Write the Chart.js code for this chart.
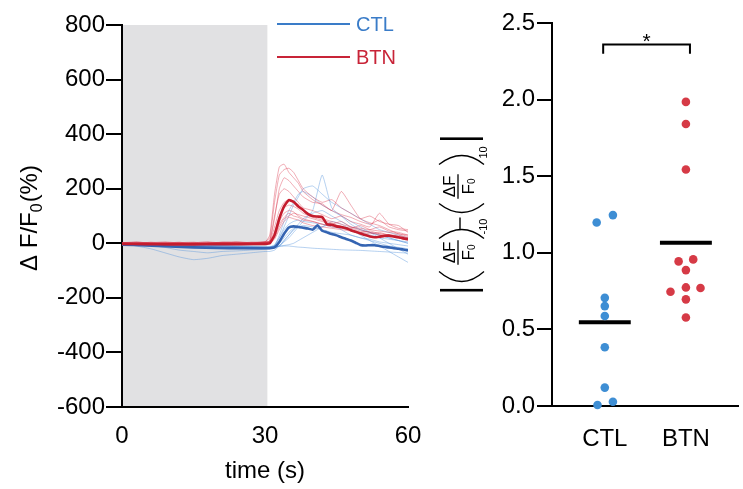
<!DOCTYPE html>
<html>
<head>
<meta charset="utf-8">
<script src="https://cdn.jsdelivr.net/npm/chart.js@4"></script>
<style>
  body { margin: 0; background: #fff; }
  #wrap { position: relative; width: 743px; height: 489px; overflow: hidden; }
  canvas { position: absolute; top: 0; }
  #trace { left: 0; }
  #dots { left: 400px; }
</style>
</head>
<body>
<div id="wrap">
  <canvas id="trace" width="440" height="489"></canvas>
  <canvas id="dots" width="343" height="489"></canvas>
</div>
<script>
// ---- left panel: dF/F0 traces ----
const traceTime = [0,3,6,9,12,15,18,21,24,27,30,31,32,33,34,35,36,37,38,40,42,44,46,48,50,52,54,56,58,60];
const meanTime = [0,5,10,15,20,25,30,31,32,33,34,35,36,37,38,39,40,41,42,43,44,45,46,47,48,49,50,51,52,53,54,55,56,57,58,59,60];

const ctlMean = [-5,-8,-12,-15,-17,-18,-18, -18,-15,5,35,58,62,60,57,54,50,66,46,40,34,29,22,16,10,2,-6,-8,-7,-7,-10,-13,-15,-18,-20,-23,-26];
const btnMean = [-2,-3,-4,-4,-3,-3,-2, 0,30,90,135,158,152,135,122,108,100,98,96,70,68,62,60,55,48,42,36,30,25,22,24,27,28,25,22,18,15];

// single cells
const ctlTraces = [
  [0,-10,-20,-35,-50,-60,-55,-45,-40,-35,-30, -30,-25,-10,10,30,50,60,65, 60,50,40,35,30,20,15,5,0,-5,-10],
  [0,-5,-8,-15,-25,-30,-35,-30,-28,-25,-22, -20,-10,20,60,100,140,170,200, 210,180,150,130,110,90,70,50,40,30,20],
  [2,0,-3,-5,-8,-10,-12,-15,-18,-20,-20, -18,-15,-10,5,20,40,60,80, 120,250,130,100,70,50,40,30,20,10,0],
  [-2,0,-3,-5,-4,-6,-8,-10,-12,-14,-15, -15,-10,30,80,120,150,180,190, 170,140,120,100,80,60,40,20,0,-20,-40],
  [0,-2,-4,-6,-5,-7,-9,-10,-12,-13,-15, -14,-12,-10,-8,-5,0,10,20, 40,60,80,70,50,30,10,-10,-30,-50,-70],
  [1,-1,-3,-2,-4,-5,-6,-8,-9,-10,-12, -12,-12,-12,-10,-10,-12,-14,-15, -18,-20,-22,-24,-25,-26,-28,-30,-32,-34,-36],
  [0,2,-2,-4,-6,-8,-10,-10,-12,-14,-16, -15,-5,20,50,70,80,85,80, 75,70,60,55,50,40,30,20,15,10,5],
  [-1,-3,-5,-7,-9,-11,-13,-15,-16,-17,-18, -18,-17,-10,10,30,50,70,90, 110,120,100,80,60,50,40,30,20,10,0],
  [0,-2,-5,-3,-6,-8,-7,-9,-11,-12,-14, -12,-8,0,20,40,55,60,55, 50,60,70,50,30,20,10,0,-10,-15,-20]
];
const btnTraces = [
  [3,-2,4,0,-3,2,5,1,-2,3,4, 30,180,280,290,260,240,220,190, 160,140,120,105,95,80,70,85,60,50,45],
  [-4,2,-1,3,0,-2,1,4,2,-1,6, 20,150,250,270,275,260,230,200, 170,150,160,130,110,90,100,80,70,65,40],
  [2,5,0,-3,2,4,-1,3,6,2,3, 10,90,200,240,230,210,190,170, 150,145,120,190,140,90,75,65,50,35,30],
  [0,-3,2,5,1,-2,3,0,4,1,2, 5,60,120,150,160,155,140,120, 100,90,80,70,60,55,50,60,45,40,30],
  [1,2,-2,0,3,1,-3,2,0,4,5, 8,40,100,130,140,135,125,110, 95,85,75,60,55,45,40,35,30,25,20],
  [-2,0,3,1,-1,2,4,-2,1,3,2, 3,30,80,110,120,115,100,90, 80,70,60,55,50,40,45,35,30,20,15],
  [3,1,0,-2,2,-1,0,3,-1,2,4, 5,20,60,90,100,110,105,100, 90,80,70,80,60,50,40,30,25,20,10],
  [0,4,1,-1,-2,3,2,1,0,-2,3, 2,15,50,80,95,90,85,75, 65,60,55,50,45,40,35,40,30,30,20],
  [2,-1,-2,3,1,0,-2,4,2,1,5, 4,25,70,95,110,100,95,85, 80,70,65,60,55,65,50,45,40,35,25],
  [-1,3,2,0,4,-3,1,2,3,0,2, 10,100,180,200,190,170,150,130, 120,105,90,100,80,70,60,110,70,55,50]
];
const stimStart = 0, stimEnd = 30.5;
const yTicksLeft = [-600, 800, 200];  // min, max, step
const xTicksLeft = [0, 60, 30];

// ---- right panel: scatter ----
const groups = ['CTL', 'BTN'];
const ctlValues = [1.198, 1.246, 0.706, 0.652, 0.587, 0.383, 0.120, 0.007, 0.028];
const btnValues = [1.985, 1.841, 1.544, 0.944, 0.957, 0.887, 0.746, 0.774, 0.770, 0.696, 0.578];
// horizontal scatter offsets of the dots (category units)
const ctlJitter = [-0.1, 0.1, 0, 0, 0, 0, 0, -0.09, 0.1];
const btnJitter = [0, 0, 0, -0.09, 0.09, 0, -0.19, 0, 0.18, 0, 0];

const FONT = '"Liberation Sans", Arial, Helvetica, sans-serif';
Chart.defaults.font.family = FONT;
Chart.defaults.color = '#000';

const blue = 'rgb(58,124,200)', red = 'rgb(200,36,56)';
const blueMean = 'rgb(52,100,178)', redMean = 'rgb(196,28,46)';
const blueThin = 'rgba(80,145,220,0.42)', redThin = 'rgba(220,60,80,0.42)';

function pts(xs, ys) { return ys.map((v, i) => ({ x: xs[i], y: v })); }

const leftSets = [];
leftSets.push({ data: pts(meanTime, btnMean), borderColor: redMean, borderWidth: 2.6, order: 0 });
leftSets.push({ data: pts(meanTime, ctlMean), borderColor: blueMean, borderWidth: 2.6, order: 1 });
btnTraces.forEach(t => leftSets.push({ data: pts(traceTime, t), borderColor: redThin, borderWidth: 1, order: 2 }));
ctlTraces.forEach(t => leftSets.push({ data: pts(traceTime, t), borderColor: blueThin, borderWidth: 1, order: 3 }));

const leftDeco = {
  id: 'leftDeco',
  beforeDraw(chart) {
    const { ctx, chartArea, scales: { x } } = chart;
    const x0 = x.getPixelForValue(stimStart), x1 = x.getPixelForValue(stimEnd);
    ctx.save();
    ctx.fillStyle = '#e1e1e3';
    ctx.fillRect(x0, chartArea.top, x1 - x0, chartArea.bottom - chartArea.top);
    ctx.restore();
  },
  afterDraw(chart) {
    const ctx = chart.ctx;
    ctx.save();
    // legend
    ctx.lineWidth = 2;
    ctx.font = '20px ' + FONT;
    ctx.textBaseline = 'middle';
    [[groups[0], blue, 24], [groups[1], red, 57]].forEach(([txt, col, y]) => {
      ctx.strokeStyle = col;
      ctx.beginPath(); ctx.moveTo(277, y); ctx.lineTo(350, y); ctx.stroke();
      ctx.fillStyle = col;
      ctx.fillText(txt, 356, y + 1);
    });
    // x title
    ctx.fillStyle = '#000';
    ctx.textBaseline = 'alphabetic';
    ctx.textAlign = 'center';
    ctx.font = '24px ' + FONT;
    ctx.fillText('time (s)', 265, 478);
    // y title with subscript
    ctx.translate(37, 218);
    ctx.rotate(-Math.PI / 2);
    ctx.textAlign = 'left';
    const big = '24px ' + FONT, small = '16px ' + FONT;
    ctx.font = big; const w1 = ctx.measureText('\u0394 F/F').width; const w3 = ctx.measureText('(%)').width;
    ctx.font = small; const w2 = ctx.measureText('0').width;
    let x = -(w1 + w2 + w3 + 1) / 2;
    ctx.font = big; ctx.fillText('\u0394 F/F', x, 0);
    ctx.font = small; ctx.fillText('0', x + w1, 5);
    ctx.font = big; ctx.fillText('(%)', x + w1 + w2 + 1, 0);
    ctx.restore();
  }
};

new Chart(document.getElementById('trace'), {
  type: 'line',
  data: { datasets: leftSets },
  options: {
    responsive: false,
    animation: false,
    layout: { padding: { left: 0, right: 32, top: 25, bottom: 0 } },
    elements: { point: { radius: 0 }, line: { tension: 0.15 } },
    plugins: { legend: { display: false }, tooltip: { enabled: false } },
    scales: {
      x: {
        type: 'linear', min: xTicksLeft[0], max: xTicksLeft[1],
        ticks: { stepSize: xTicksLeft[2], font: { size: 24 }, padding: 7, color: '#000', maxRotation: 0 },
        grid: { display: false },
        border: { color: '#000', width: 2 },
        afterFit(s) { s.height = 82; }
      },
      y: {
        min: yTicksLeft[0], max: yTicksLeft[1],
        ticks: { stepSize: yTicksLeft[2], font: { size: 24 }, padding: 1, color: '#000' },
        grid: { drawOnChartArea: false, color: '#000', lineWidth: 2, tickLength: 16 },
        border: { color: '#000', width: 2 },
        afterFit(s) { s.width = 122; }
      }
    }
  },
  plugins: [leftDeco]
});

// ---- right panel ----
function mean(a) { return a.reduce((s, v) => s + v, 0) / a.length; }
const meanHalf = 0.32;
const rightSets = [
  { data: ctlValues.map((v, i) => ({ x: 1 + ctlJitter[i], y: v })), backgroundColor: 'rgb(62,142,212)', pointRadius: 4.3, pointBorderWidth: 0, clip: false },
  { data: btnValues.map((v, i) => ({ x: 2 + btnJitter[i], y: v })), backgroundColor: 'rgb(214,58,70)', pointRadius: 4.3, pointBorderWidth: 0, clip: false },
  { data: [{ x: 1 - meanHalf, y: mean(ctlValues) }, { x: 1 + meanHalf, y: mean(ctlValues) }], showLine: true, borderColor: '#000', borderWidth: 4, pointRadius: 0 },
  { data: [{ x: 2 - meanHalf, y: mean(btnValues) }, { x: 2 + meanHalf, y: mean(btnValues) }], showLine: true, borderColor: '#000', borderWidth: 4, pointRadius: 0 }
];

// paren along the text direction: ends at e, bulge reaching m
function paren(ctx, e, m) {
  ctx.beginPath();
  ctx.moveTo(e, -20);
  ctx.quadraticCurveTo(2 * m - e, 3, e, 25);
  ctx.stroke();
}
function fraction(ctx, c) {
  const big = '17px ' + FONT, small = '10px ' + FONT;
  ctx.font = big;
  const wn = ctx.measureText('\u0394F').width, wf = ctx.measureText('F').width;
  ctx.font = small;
  const w0 = ctx.measureText('0').width;
  const w = Math.max(wn, wf + w0) + 3;
  ctx.lineWidth = 1.3;
  ctx.beginPath(); ctx.moveTo(c - w / 2, -1); ctx.lineTo(c + w / 2, -1); ctx.stroke();
  ctx.font = big;
  ctx.fillText('\u0394F', c - wn / 2, -4);
  const s = c - (wf + w0) / 2;
  ctx.fillText('F', s, 15);
  ctx.font = small;
  ctx.fillText('0', s + wf, 16);
}
// |(dF/F0)-10 - (dF/F0)10| laid out along the axis
function deltaTitle(ctx) {
  ctx.fillRect(-77, -19, 2.6, 43);
  ctx.fillRect(74.5, -19, 2.6, 43);
  ctx.lineWidth = 1.3;
  paren(ctx, -57, -67);
  fraction(ctx, -38);
  ctx.lineWidth = 1.3;
  paren(ctx, -24, -15);
  ctx.font = '11px ' + FONT;
  ctx.fillText('-10', -20, 28);
  ctx.lineWidth = 1.4;
  ctx.beginPath(); ctx.moveTo(-15, 1); ctx.lineTo(-3, 1); ctx.stroke();
  paren(ctx, 11, 2);
  fraction(ctx, 28);
  ctx.lineWidth = 1.3;
  paren(ctx, 50, 59);
  ctx.font = '11px ' + FONT;
  ctx.fillText('10', 56, 28);
}

const rightDeco = {
  id: 'rightDeco',
  afterDraw(chart) {
    const { ctx, scales: { x, y } } = chart;
    ctx.save();
    // significance bracket
    const xa = x.getPixelForValue(0.98), xb = x.getPixelForValue(2.05);
    const yt = y.getPixelForValue(2.36), yd = y.getPixelForValue(2.30);
    ctx.strokeStyle = '#000'; ctx.lineWidth = 2;
    ctx.beginPath(); ctx.moveTo(xa, yd); ctx.lineTo(xa, yt); ctx.lineTo(xb, yt); ctx.lineTo(xb, yd); ctx.stroke();
    ctx.fillStyle = '#000';
    ctx.font = '21px ' + FONT;
    ctx.textAlign = 'center';
    ctx.fillText('*', (xa + xb) / 2, yt + 4);
    // y title
    ctx.textAlign = 'left';
    ctx.translate(59, 214.5);
    ctx.rotate(-Math.PI / 2);
    deltaTitle(ctx);
    ctx.restore();
  }
};

new Chart(document.getElementById('dots'), {
  type: 'scatter',
  data: { datasets: rightSets },
  options: {
    responsive: false,
    animation: false,
    layout: { padding: { left: 0, right: 0, top: 23, bottom: 0 } },
    plugins: { legend: { display: false }, tooltip: { enabled: false } },
    scales: {
      x: {
        type: 'linear', min: 0.349, max: 2.651,
        afterBuildTicks(s) { s.ticks = groups.map((g, i) => ({ value: i + 1 })); },
        ticks: { callback: v => groups[v - 1], font: { size: 24 }, padding: 11, color: '#000', maxRotation: 0 },
        grid: { display: false },
        border: { color: '#000', width: 2 },
        afterFit(s) { s.height = 83; }
      },
      y: {
        min: 0, max: 2.5,
        ticks: { stepSize: 0.5, callback: v => v.toFixed(1), font: { size: 24 }, padding: 2, color: '#000' },
        grid: { drawOnChartArea: false, color: '#000', lineWidth: 2, tickLength: 15 },
        border: { color: '#000', width: 2 },
        afterFit(s) { s.width = 152; }
      }
    }
  },
  plugins: [rightDeco]
});
</script>
</body>
</html>
